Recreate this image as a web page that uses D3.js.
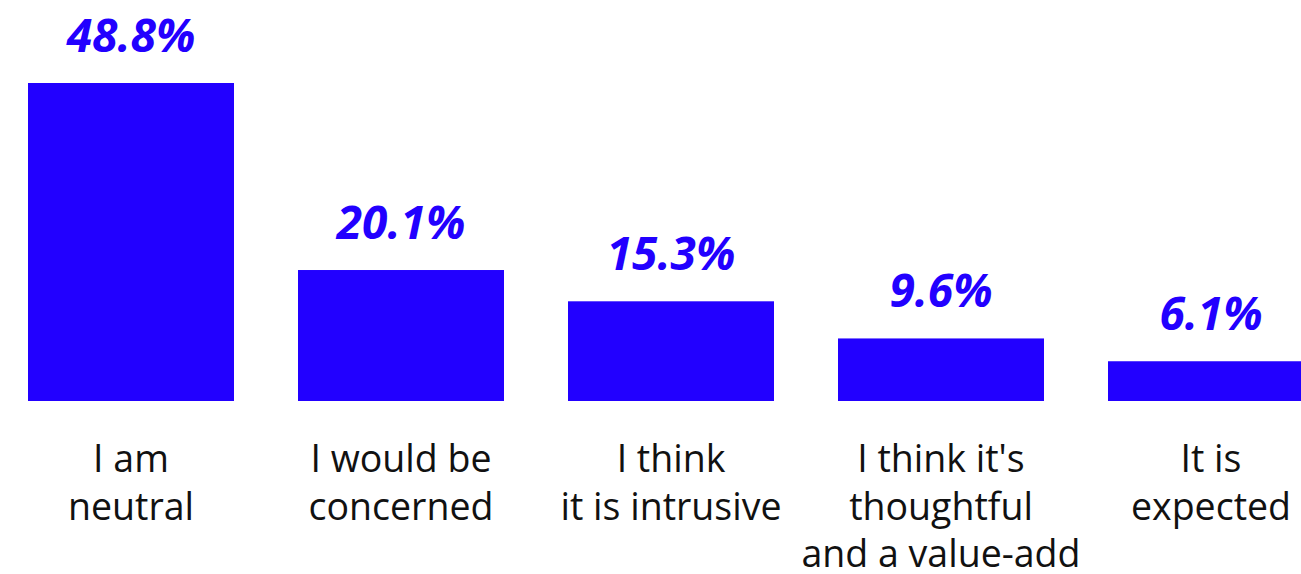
<!DOCTYPE html>
<html>
<head>
<meta charset="utf-8">
<script src="https://cdn.jsdelivr.net/npm/d3@7"></script>
<style>
  html, body { margin: 0; padding: 0; background: #fff; overflow: hidden; }
  svg { display: block; }
</style>
</head>
<body>
<svg id="chart" width="1301" height="574"></svg>
<script>
// Survey responses: share of respondents per answer
const categories = ["I am neutral", "I would be concerned", "I think it is intrusive", "I think it's thoughtful and a value-add", "It is expected"];
const labelLines = [
  ["I am", "neutral"],
  ["I would be", "concerned"],
  ["I think", "it is intrusive"],
  ["I think it's", "thoughtful", "and a value-add"],
  ["It is", "expected"]
];
const shares = [48.8, 20.1, 15.3, 9.6, 6.1];

const barColor = "#2200ff";
const svg = d3.select("#chart");

const x = d3.scaleBand()
  .domain(categories)
  .range([28, 1314])
  .paddingInner(64 / 270)
  .paddingOuter(0);

const y = d3.scaleLinear()
  .domain([0, d3.max(shares)])
  .range([401, 83]);

const data = categories.map((c, i) => ({ cat: c, value: shares[i], lines: labelLines[i] }));

svg.append("g").selectAll("rect")
  .data(data)
  .join("rect")
  .attr("x", d => x(d.cat))
  .attr("y", d => y(d.value))
  .attr("width", x.bandwidth())
  .attr("height", d => y(0) - y(d.value))
  .attr("fill", barColor);

svg.append("g").selectAll("text")
  .data(data)
  .join("text")
  .attr("x", d => x(d.cat) + x.bandwidth() / 2)
  .attr("y", d => y(d.value) - 31)
  .attr("text-anchor", "middle")
  .attr("font-family", "'Open Sans', sans-serif")
  .attr("font-weight", 700)
  .attr("font-style", "italic")
  .attr("font-size", 46)
  .attr("fill", barColor)
  .text(d => d.value.toFixed(1) + "%");

const cats = svg.append("g").selectAll("text")
  .data(data)
  .join("text")
  .attr("x", d => x(d.cat) + x.bandwidth() / 2)
  .attr("y", 472)
  .attr("text-anchor", "middle")
  .attr("font-family", "'Open Sans', sans-serif")
  .attr("font-size", 37.5)
  .attr("fill", "#111");

cats.selectAll("tspan")
  .data(d => d.lines.map((t, i) => ({ t, i, cx: x(d.cat) + x.bandwidth() / 2 })))
  .join("tspan")
  .attr("x", d => d.cx)
  .attr("y", d => 472 + d.i * 47.5)
  .text(d => d.t);
</script>
</body>
</html>
